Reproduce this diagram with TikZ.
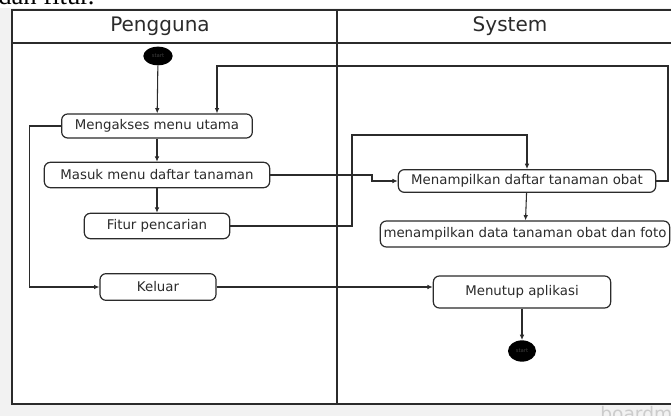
\documentclass[tikz,border=0pt]{standalone}
\usepackage{fontspec}
\setmainfont{DejaVu Sans}
\newfontfamily\serifhead{Liberation Serif}
\usetikzlibrary{arrows.meta,shapes.geometric}
\definecolor{ink}{HTML}{2B2B2B}
\definecolor{board}{HTML}{F2F2F2}

\begin{document}
\begin{tikzpicture}[x=0.75pt, y=-0.75pt,
  act/.style={draw=ink, line width=0.9pt, rounded corners=4.5pt, text=ink, inner sep=1pt, font=\fontsize{10}{12}\selectfont},
  dot/.style={ellipse, fill=black, minimum width=22pt, minimum height=14pt, inner sep=0pt, text=darkgray, font=\fontsize{4}{4}\selectfont},
  flow/.style={draw=ink, line width=0.8pt, -{Latex[length=4pt,width=3.5pt]}}]
\useasboundingbox (0,0) rectangle (671,416);
\fill[board] (0,8) rectangle (671,416);
\draw[ink, line width=0.8pt, fill=white] (12,10) rectangle (690,404);
\draw[ink, line width=0.8pt] (12,43) -- (690,43);
\draw[ink, line width=0.8pt] (337,10) -- (337,404);
\node[anchor=base west, inner sep=0pt, font=\serifhead\fontsize{20}{20}\selectfont] (note) at (-2,5) {dan fitur.};
\node[anchor=base west, inner sep=0pt, text=gray!40, font=\fontsize{14}{14}\selectfont] (mark) at (600,421) {boardmix};
\node[text=ink, font=\fontsize{15}{18}\selectfont] (lane1) at (160,26) {Pengguna};
\node[text=ink, font=\fontsize{15}{18}\selectfont] (lane2) at (510,26) {System};

% pengguna
\node[dot] (start) at (158,56) {start};
\node[act, minimum width=143pt, minimum height=18pt] (menu) at (157,126) {Mengakses menu utama};
\node[act, minimum width=169pt, minimum height=19pt] (masuk) at (157,175) {Masuk menu daftar tanaman};
\node[act, minimum width=109pt, minimum height=19pt] (fitur) at (157,226) {Fitur pencarian};
\node[act, minimum width=87pt, minimum height=20pt] (keluar) at (158,287) {Keluar};

% system
\node[act, minimum width=193pt, minimum height=17pt] (tampil) at (527,181) {Menampilkan daftar tanaman obat};
\node[act, minimum width=217pt, minimum height=19.5pt] (data) at (525,234) {menampilkan data tanaman obat dan foto};
\node[act, minimum width=133pt, minimum height=24pt] (tutup) at (522,292) {Menutup aplikasi};
\node[dot, minimum width=21pt, minimum height=16pt] (end) at (522,351) {start};

\coordinate (m1) at (372,175);
\coordinate (f1) at (352,135);
\coordinate (k1) at (668,66);
\coordinate (k2) at (217,66);

\draw[flow] (start) -- (menu);
\draw[flow] (menu) -- (masuk);
\draw[flow] (masuk) -- (fitur);
\draw[flow] (menu.west) -- ++(-32,0) |- (keluar.west);
\draw[flow] (masuk.east) -- (m1) |- (tampil.west);
\draw[flow] (fitur.east) -| (f1) -| (tampil.north);
\draw[flow] (tampil.east) -| (k1) -- (k2) -- (k2 |- menu.north);
\draw[flow] (tampil) -- (data);
\draw[flow] (keluar.east) -- (keluar.east -| tutup.west);
\draw[flow] (tutup) -- (end);
\end{tikzpicture}
\end{document}
